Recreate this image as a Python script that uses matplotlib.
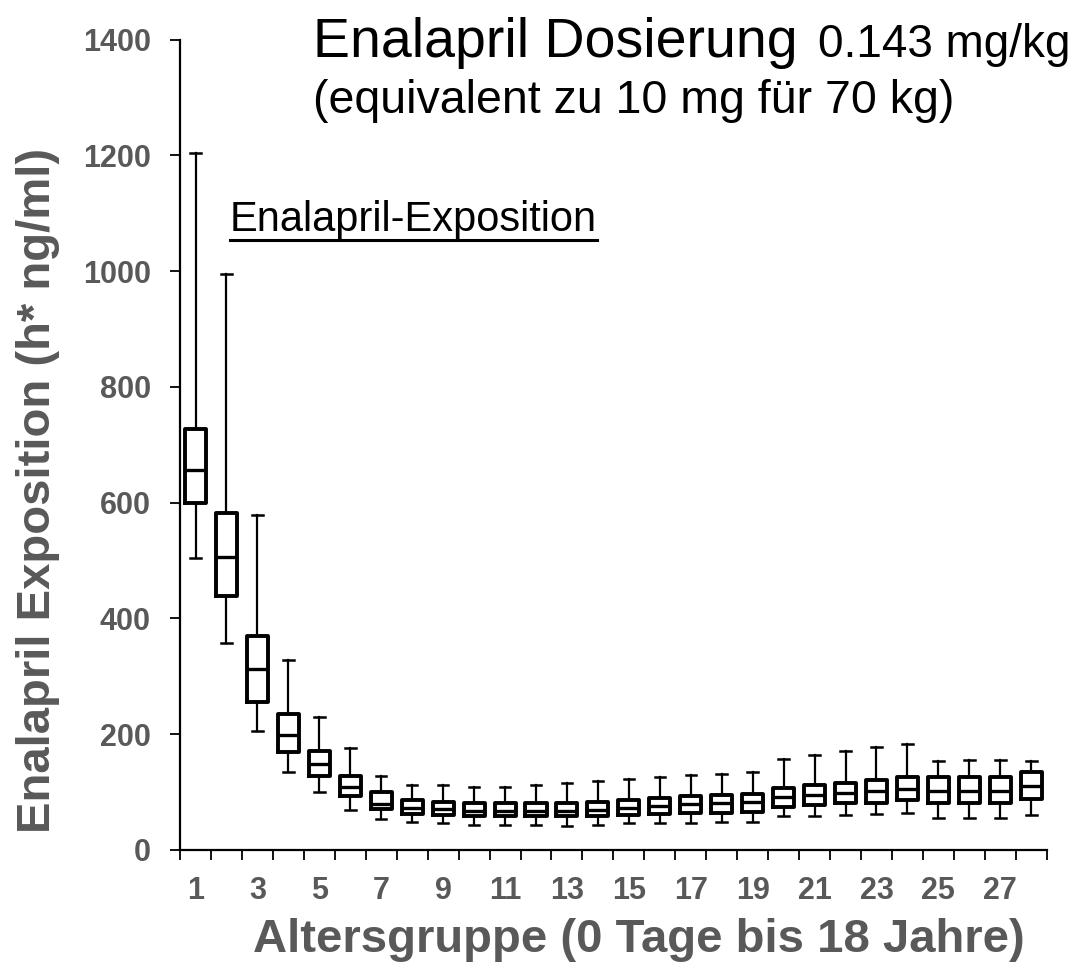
import matplotlib
matplotlib.use('Agg')
import matplotlib.pyplot as plt
import numpy as np

plt.rcParams['font.family'] = ['Liberation Sans', 'DejaVu Sans']

# ─── Data ──────────────────────────────────────────────────────────────────
groups = list(range(1, 29))
medians = [657, 507, 313, 199, 148, 108, 80, 73, 70, 68, 68, 68, 67, 69,
           73, 76, 80, 81, 83, 92, 95, 98, 102, 105, 102, 102, 102, 110]
q1 = [600, 438, 256, 170, 128, 93, 71, 63, 60, 59, 58, 58, 58, 59,
      60, 62, 64, 64, 66, 75, 78, 81, 82, 86, 81, 81, 82, 88]
q3 = [727, 583, 370, 235, 171, 128, 100, 86, 83, 82, 82, 82, 82, 83,
      86, 89, 93, 95, 97, 107, 112, 116, 121, 126, 126, 126, 126, 134]
whislo = [505, 357, 206, 134, 100, 69, 53, 48, 46, 44, 43, 43, 42, 44,
          46, 47, 47, 48, 48, 58, 59, 61, 63, 64, 55, 55, 56, 60]
whishi = [1205, 995, 578, 328, 230, 176, 128, 113, 112, 109, 108, 113, 116, 119,
          122, 126, 129, 132, 135, 157, 164, 171, 178, 183, 153, 155, 155, 153]
xtick_labels = [str(g) for g in groups if g % 2 == 1]
yticks = [0, 200, 400, 600, 800, 1000, 1200, 1400]

GRAY = '#595959'

fig = plt.figure(figsize=(10.78, 9.67), dpi=100)
ax = fig.add_axes([0.167, 0.121, 0.804, 0.838])

stats = []
for i in range(len(groups)):
    stats.append({'med': medians[i], 'q1': q1[i], 'q3': q3[i],
                  'whislo': whislo[i], 'whishi': whishi[i], 'fliers': []})

ax.bxp(stats, positions=groups, widths=0.68, showfliers=False,
       boxprops=dict(color='black', linewidth=2.8),
       medianprops=dict(color='black', linewidth=2.4),
       whiskerprops=dict(color='black', linewidth=1.6),
       capprops=dict(color='black', linewidth=1.8),
       capwidths=0.34)

ax.set_xlim(0.5, 28.5)
ax.set_ylim(0, 1400)

# spines
for s in ['top', 'right']:
    ax.spines[s].set_visible(False)
for s in ['left', 'bottom']:
    ax.spines[s].set_linewidth(1.6)

# x: ticks on group boundaries, labels at odd groups
ax.set_xticks(np.arange(0.5, 29.5, 1.0))
ax.set_xticklabels([])
ax.tick_params(axis='x', which='major', length=7, width=1.3, direction='out')
ax.set_xticks([g for g in groups if g % 2 == 1], minor=True)
ax.set_xticklabels(xtick_labels, minor=True, fontsize=22, fontweight='bold', color=GRAY)
ax.tick_params(axis='x', which='minor', length=0, pad=19)

ax.set_yticks(yticks)
ax.set_yticklabels([str(v) for v in yticks], fontsize=22, fontweight='bold', color=GRAY)
ax.tick_params(axis='y', length=7, width=1.3, direction='out', pad=14)

ax.set_xlabel('Altersgruppe (0 Tage bis 18 Jahre)', fontsize=34, fontweight='bold',
              color=GRAY)
ax.xaxis.set_label_coords(0.529, -0.084)
ax.set_ylabel('Enalapril Exposition (h* ng/ml)', fontsize=34, fontweight='bold',
              color=GRAY)
ax.yaxis.set_label_coords(-0.138, 0.444)

# title block
fig.text(0.29, 0.956, 'Enalapril Dosierung', fontsize=40, ha='left', va='center')
fig.text(0.759, 0.953, '0.143 mg/kg', fontsize=33, ha='left', va='center')
fig.text(0.29, 0.896, '(equivalent zu 10 mg für 70 kg)', fontsize=33.5,
         ha='left', va='center')

# underlined label
lbl = fig.text(0.213, 0.772, 'Enalapril-Exposition', fontsize=30, ha='left', va='center')
fig.canvas.draw()
bb = lbl.get_window_extent().transformed(fig.transFigure.inverted())
fig.add_artist(plt.Line2D([bb.x0, bb.x1], [bb.y0 + 0.001, bb.y0 + 0.001],
                          transform=fig.transFigure, color='black', linewidth=2.2))

plt.savefig('out.png', dpi=100)
plt.close()
